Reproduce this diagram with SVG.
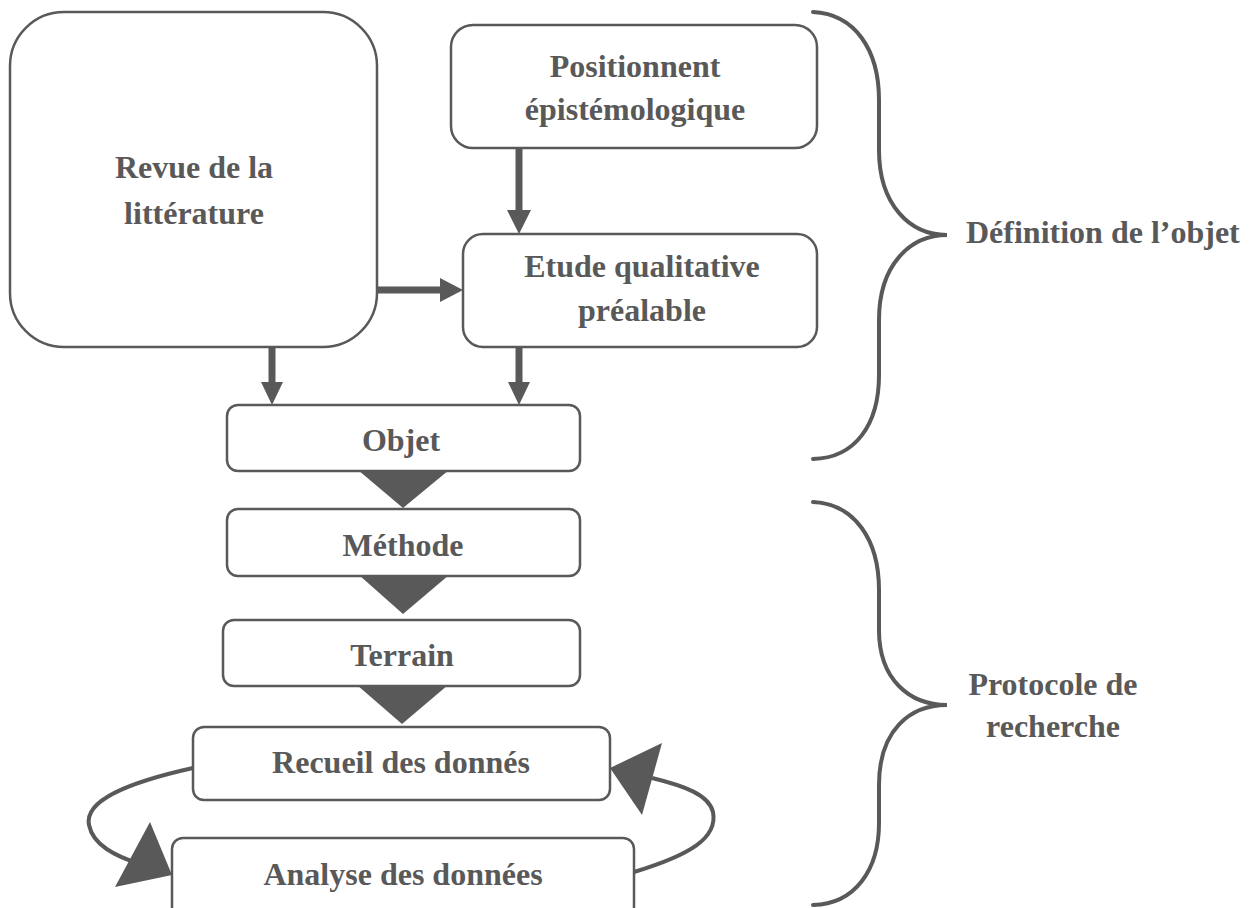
<svg xmlns="http://www.w3.org/2000/svg" width="1252" height="908" viewBox="0 0 1252 908">
  <style>
    .box { fill: #ffffff; stroke: #595959; stroke-width: 2.5; }
    .lbl { font-family: "Liberation Serif", "Times New Roman", serif; font-weight: bold; font-size: 32px; fill: #595959; text-anchor: middle; }
    .side { font-family: "Liberation Serif", "Times New Roman", serif; font-weight: bold; font-size: 32px; fill: #595959; }
    .shaft { stroke: #595959; stroke-width: 7; fill: none; }
    .head { fill: #595959; stroke: none; }
    .loop { stroke: #595959; stroke-width: 4; fill: none; }
    .brace { stroke: #595959; stroke-width: 4; fill: none; stroke-linecap: round; }
  </style>

  <rect width="1252" height="908" fill="#ffffff"/>

  <!-- connectors -->
  <g id="connectors">
    <!-- Positionnent -> Etude -->
    <line class="shaft" x1="519" y1="148" x2="519" y2="212"/>
    <polygon class="head" points="507,210 531,210 519,234"/>
    <!-- Revue -> Etude -->
    <line class="shaft" x1="377" y1="290" x2="442" y2="290"/>
    <polygon class="head" points="440,278 440,302 463,290"/>
    <!-- Revue -> Objet -->
    <line class="shaft" x1="272" y1="347" x2="272" y2="384"/>
    <polygon class="head" points="261,382 283,382 272,405"/>
    <!-- Etude -> Objet -->
    <line class="shaft" x1="519" y1="347" x2="519" y2="384"/>
    <polygon class="head" points="508,382 530,382 519,405"/>
    <!-- stage chevrons -->
    <polygon class="head" points="358,470 449,470 403,508"/>
    <polygon class="head" points="359,575 449,575 403,614"/>
    <polygon class="head" points="357,685 448,685 402,724"/>
    <!-- collection / analysis loop -->
    <path class="loop" d="M193,768 C130,782 84,800 89,825 C93,845 115,856 140,864"/>
    <polygon class="head" points="150,822 115,887 172,875"/>
    <path class="loop" d="M634,872 C690,855 718,838 713,812 C709,795 685,786 652,778"/>
    <polygon class="head" points="610,768 662,743 642,815"/>
  </g>

  <!-- braces -->
  <g id="brace-definition">
    <path class="brace" d="M813,12 C855,14 879,50 879,100 L879,150 C879,205 910,235 947,235 C910,235 879,265 879,320 L879,375 C879,425 855,458 813,459"/>
    <text class="side" x="966" y="243">Définition de l’objet</text>
  </g>
  <g id="brace-protocole">
    <path class="brace" d="M813,502 C855,504 879,540 879,590 L879,630 C879,680 910,705 947,705 C910,705 879,730 879,785 L879,823 C879,870 855,904 813,905"/>
    <text class="lbl" x="1053" y="695">Protocole de</text>
    <text class="lbl" x="1053" y="737">recherche</text>
  </g>

  <!-- nodes -->
  <g id="revue">
    <rect class="box" x="10" y="12" width="367" height="335" rx="54"/>
    <text class="lbl" x="194" y="178">Revue de la</text>
    <text class="lbl" x="194" y="224">littérature</text>
  </g>
  <g id="positionnent">
    <rect class="box" x="451" y="25" width="366" height="123" rx="22"/>
    <text class="lbl" x="635" y="77">Positionnent</text>
    <text class="lbl" x="635" y="120">épistémologique</text>
  </g>
  <g id="etude">
    <rect class="box" x="463" y="234" width="354" height="113" rx="20"/>
    <text class="lbl" x="642" y="277">Etude qualitative</text>
    <text class="lbl" x="642" y="321">préalable</text>
  </g>
  <g id="objet">
    <rect class="box" x="227" y="405" width="353" height="66" rx="11"/>
    <text class="lbl" x="401" y="451">Objet</text>
  </g>
  <g id="methode">
    <rect class="box" x="227" y="509" width="353" height="67" rx="11"/>
    <text class="lbl" x="403" y="556">Méthode</text>
  </g>
  <g id="terrain">
    <rect class="box" x="223" y="620" width="357" height="66" rx="11"/>
    <text class="lbl" x="402" y="666">Terrain</text>
  </g>
  <g id="recueil">
    <rect class="box" x="193" y="727" width="417" height="73" rx="11"/>
    <text class="lbl" x="401" y="773">Recueil des donnés</text>
  </g>
  <g id="analyse">
    <rect class="box" x="172" y="838" width="462" height="80" rx="11"/>
    <text class="lbl" x="403" y="885">Analyse des données</text>
  </g>
</svg>
